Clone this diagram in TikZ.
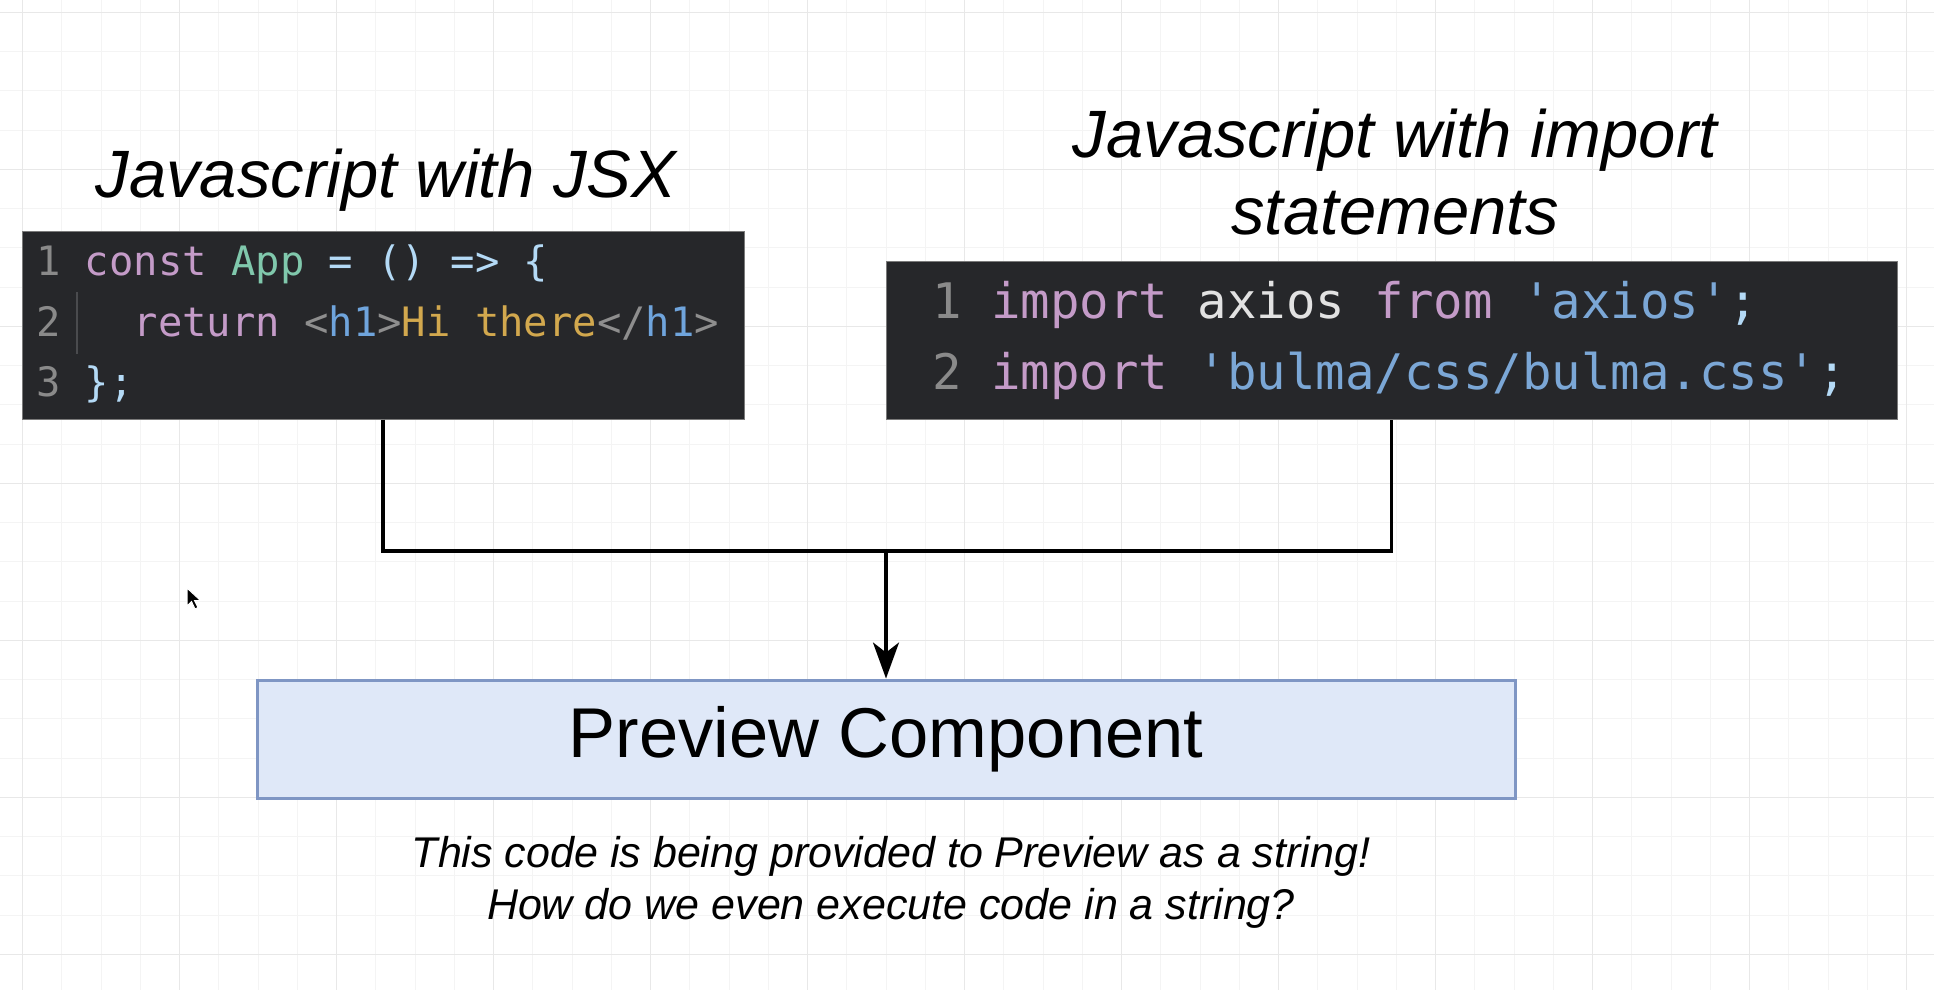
\documentclass[tikz,border=0pt]{standalone}
\usepackage{fontspec}
\setmainfont{Liberation Sans}
\setmonofont{DejaVu Sans Mono}
\usetikzlibrary{arrows.meta}
\definecolor{gridminor}{HTML}{F4F4F4}
\definecolor{gridmajor}{HTML}{E8E8E8}
\definecolor{codebg}{HTML}{26272A}
\definecolor{codeedge}{HTML}{7A7A7A}
\definecolor{cnumc}{HTML}{8A8A8A}
\definecolor{ckwc}{HTML}{C49BC8}
\definecolor{cappc}{HTML}{80C8AC}
\definecolor{cpunc}{HTML}{B4DAF6}
\definecolor{cgrayc}{HTML}{8E8E8E}
\definecolor{ctagc}{HTML}{6FA4DC}
\definecolor{cyelc}{HTML}{D2A84E}
\definecolor{cidc}{HTML}{E2E2E2}
\definecolor{cstrc}{HTML}{7BA7D6}
\definecolor{guidec}{HTML}{4A4B4E}
\definecolor{pvfill}{HTML}{DFE8F8}
\definecolor{pvdraw}{HTML}{7F96C4}
\newcommand\cnum[1]{\textcolor{cnumc}{#1}}
\newcommand\ckw[1]{\textcolor{ckwc}{#1}}
\newcommand\capp[1]{\textcolor{cappc}{#1}}
\newcommand\cpun[1]{\textcolor{cpunc}{#1}}
\newcommand\cgray[1]{\textcolor{cgrayc}{#1}}
\newcommand\ctag[1]{\textcolor{ctagc}{#1}}
\newcommand\cyel[1]{\textcolor{cyelc}{#1}}
\newcommand\cid[1]{\textcolor{cidc}{#1}}
\newcommand\cstr[1]{\textcolor{cstrc}{#1}}
\begin{document}
\begin{tikzpicture}[x=1pt,y=-1pt,
  codebox/.style={fill=codebg,draw=codeedge,line width=1pt,inner sep=0pt},
  heading/.style={anchor=base,inner sep=0pt,font=\fontsize{67}{80}\itshape\selectfont},
  codeL/.style={anchor=base west,inner sep=0pt,font=\fontsize{40.5}{48}\ttfamily\selectfont},
  codeR/.style={anchor=base west,inner sep=0pt,font=\fontsize{49}{58}\ttfamily\selectfont},
  conn/.style={draw=black,line width=3.2pt},
  pvbox/.style={fill=pvfill,draw=pvdraw,line width=3pt,inner sep=0pt,font=\fontsize{70.5}{80}\selectfont},
  note/.style={anchor=base,inner sep=0pt,font=\fontsize{43}{50}\itshape\selectfont}]
% background and bounding box
\fill[white] (0,0) rectangle (1934,990);
\useasboundingbox (0,0) rectangle (1934,990);
% grid
\foreach \k in {0,...,48} {
  \draw[gridminor,line width=1pt] ({22.7+39.25*\k},0) -- ({22.7+39.25*\k},990);
}
\foreach \k in {0,...,24} {
  \draw[gridminor,line width=1pt] (0,{12.3+39.25*\k}) -- (1934,{12.3+39.25*\k});
}
\foreach \k in {0,4,...,48} {
  \draw[gridmajor,line width=1.5pt] ({22.7+39.25*\k},0) -- ({22.7+39.25*\k},990);
}
\foreach \k in {0,4,...,24} {
  \draw[gridmajor,line width=1.5pt] (0,{12.3+39.25*\k}) -- (1934,{12.3+39.25*\k});
}
% headings
\node[heading] (h1) at (386,197) {Javascript with JSX};
\node[heading] (h2a) at (1395,157) {Javascript with import};
\node[heading] (h2b) at (1395,234) {statements};
% left code box
\node[codebox,minimum width=722pt,minimum height=188pt] (jsx) at (383,325) {};
\draw[guidec,line width=1.5pt] (77,292) -- (77,354);
\node[codeL] (jl1) at (36,275) {\cnum{1}~\ckw{const}~\capp{App}~\cpun{=}~\cpun{()}~\cpun{=>}~\cpun{\{}};
\node[codeL] (jl2) at (36,336) {\cnum{2}~~~\ckw{return}~\cgray{<}\ctag{h1}\cgray{>}\cyel{Hi~there}\cgray{</}\ctag{h1}\cgray{>}};
\node[codeL] (jl3) at (36,396) {\cnum{3}~\cpun{\};}};
% right code box
\node[codebox,minimum width=1011pt,minimum height=158pt] (imp) at (1391.5,340) {};
\node[codeR] (il1) at (932,318) {\cnum{1}~\ckw{import}~\cid{axios}~\ckw{from}~\cstr{'axios'}\cpun{;}};
\node[codeR] (il2) at (932,389) {\cnum{2}~\ckw{import}~\cstr{'bulma/css/bulma.css'}\cpun{;}};
% preview component
\node[pvbox,minimum width=1258pt,minimum height=118pt] (pv) at (886,739) {Preview Component};
% connectors
\coordinate (mid) at (886,551);
\draw[conn] (jsx.south) |- (mid) -| (imp.south);
\draw[conn,-{Stealth[length=36pt,width=26pt,inset=10pt]}] (mid) -- (pv.north);
% note
\node[note] (n1) at (891,867) {This code is being provided to Preview as a string!};
\node[note] (n2) at (891,919) {How do we even execute code in a string?};
% mouse cursor
\filldraw[fill=black,draw=white,line width=1pt] (187,588) -- (187,606) -- (191.5,601.5) -- (195,609) -- (198,607.5) -- (194.5,600.5) -- (200.5,600.5) -- cycle;
\end{tikzpicture}
\end{document}
